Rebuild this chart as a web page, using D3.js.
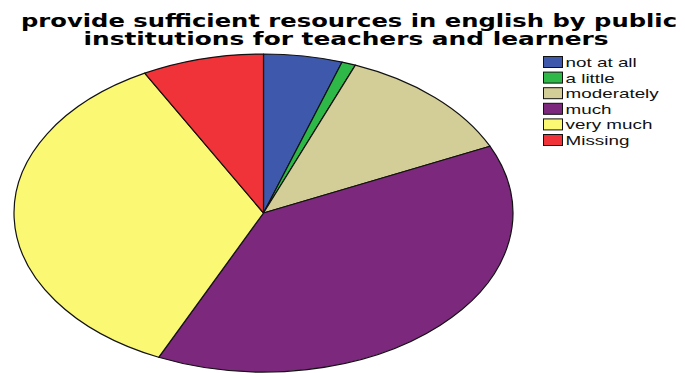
<!DOCTYPE html>
<html>
<head>
<meta charset="utf-8">
<script src="https://cdn.jsdelivr.net/npm/d3@7"></script>
<style>
  html, body { margin: 0; padding: 0; background: #fff; }
  svg { display: block; }
</style>
</head>
<body>
<svg id="chart" width="685" height="373"></svg>
<script>
const titleLines = ["provide sufficient resources in english by public", "institutions for teachers and learners"];
const categories = ["not at all", "a little", "moderately", "much", "very much", "Missing"];
const percents = [5.1, 0.9, 12.1, 38.8, 35.2, 7.9];
const colors = ["#3E58AC", "#2EB848", "#D3CE97", "#7C287D", "#FBF873", "#EF3338"];

const svg = d3.select("#chart");

// Title
const title = svg.append("g");
const titleW = [656, 525];
const titleX = [349, 346];
const titleY = [27, 45];
titleLines.forEach((t, i) => {
  title.append("text")
    .attr("x", titleX[i])
    .attr("y", titleY[i])
    .attr("text-anchor", "middle")
    .attr("font-family", "DejaVu Sans")
    .attr("font-weight", "bold")
    .attr("font-size", 18.5)
    .attr("textLength", titleW[i])
    .attr("lengthAdjust", "spacingAndGlyphs")
    .attr("fill", "#000")
    .text(t);
});

// Pie (elliptical)
const cx = 263.5, cy = 213, rx = 249.5, ry = 159;
const data = categories.map((c, i) => ({ cat: c, v: percents[i] }));
const pie = d3.pie().sort(null).value(d => d.v).startAngle(0).endAngle(2 * Math.PI);
const arc = d3.arc().innerRadius(0).outerRadius(ry);
const color = d3.scaleOrdinal().domain(categories).range(colors);

const g = svg.append("g").attr("transform", `translate(${cx},${cy}) scale(${rx / ry},1)`);
g.selectAll("path")
  .data(pie(data))
  .join("path")
  .attr("d", arc)
  .attr("fill", d => color(d.data.cat))
  .attr("stroke", "#111")
  .attr("stroke-width", 1.2)
  .attr("vector-effect", "non-scaling-stroke")
  .attr("stroke-linejoin", "round");

// Legend
const legendY = d3.scalePoint().domain(categories).range([62, 140]);
const lg = svg.append("g");
const item = lg.selectAll("g.item").data(categories).join("g")
  .attr("class", "item")
  .attr("transform", d => `translate(543,${legendY(d)})`);
item.append("rect")
  .attr("x", 0.5).attr("y", -5.5)
  .attr("width", 19).attr("height", 11)
  .attr("fill", d => color(d))
  .attr("stroke", "#111")
  .attr("stroke-width", 1);
item.append("text")
  .attr("transform", "translate(22.5,5) scale(1.45,1)")
  .attr("font-family", "Liberation Sans, Arial, sans-serif")
  .attr("font-size", 13)
  .attr("fill", "#111")
  .text(d => d);
</script>
</body>
</html>
